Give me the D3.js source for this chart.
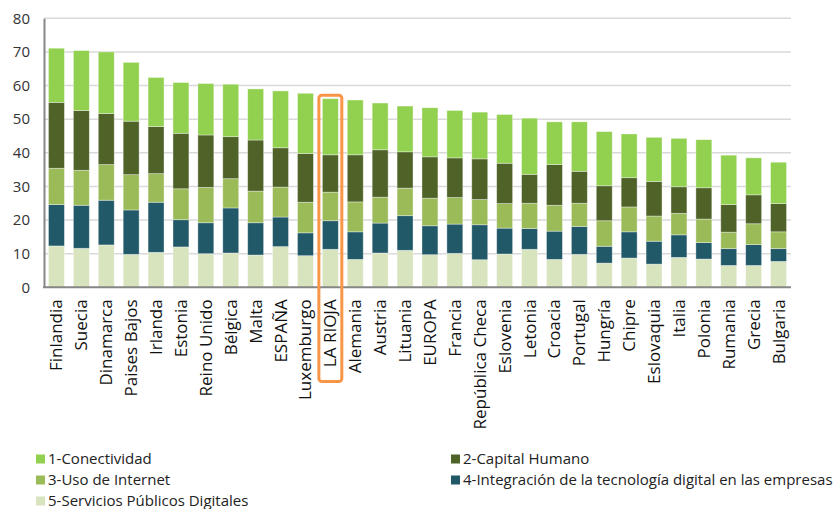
<!DOCTYPE html>
<html><head><meta charset="utf-8">
<script src="https://cdn.jsdelivr.net/npm/d3@7"></script>
<style>body{margin:0;background:#fff}</style>
</head><body>
<svg id="c" width="834" height="509"></svg>
<script>
const categories = ["Finlandia","Suecia","Dinamarca","Paises Bajos","Irlanda","Estonia","Reino Unido","Bélgica","Malta","ESPAÑA","Luxemburgo","LA RIOJA","Alemania","Austria","Lituania","EUROPA","Francia","República Checa","Eslovenia","Letonia","Croacia","Portugal","Hungría","Chipre","Eslovaquia","Italia","Polonia","Rumania","Grecia","Bulgaria"];
const serviciosPublicos = [12.3,11.6,12.6,9.8,10.4,12.0,10.0,10.2,9.6,12.1,9.4,11.3,8.3,10.2,11.0,9.7,10.1,8.2,9.9,11.3,8.3,9.8,7.2,8.7,6.9,8.9,8.4,6.5,6.5,7.7];
const integracion = [12.3,12.8,13.3,13.2,14.9,8.1,9.2,13.4,9.6,8.8,6.8,8.5,8.2,8.9,10.3,8.6,8.7,10.4,7.7,6.2,8.4,8.3,5.0,7.8,6.8,6.7,4.9,5.0,6.2,3.8];
const usoInternet = [10.8,10.4,10.6,10.5,8.5,9.2,10.5,8.7,9.4,8.9,9.1,8.5,8.9,7.7,8.2,8.2,7.9,7.5,7.3,7.5,7.7,6.9,7.6,7.4,7.5,6.4,7.0,4.9,6.2,5.0];
const capitalHumano = [19.6,17.8,15.2,15.9,14.0,16.5,15.6,12.5,15.2,11.7,14.5,11.1,14.0,14.1,10.8,12.3,11.8,12.1,12.0,8.6,12.1,9.5,10.4,8.7,10.3,7.9,9.3,8.2,8.6,8.4];
const conectividad = [16.1,17.8,18.3,17.5,14.6,15.1,15.3,15.6,15.2,16.9,17.9,16.7,16.3,13.9,13.6,14.6,14.1,13.9,14.5,16.7,12.7,14.7,16.1,13.0,13.1,14.4,14.3,14.7,11.0,12.3];
const yTicks = [0,10,20,30,40,50,60,70,80];
const seriesNames = ["5-Servicios Públicos Digitales","4-Integración de la tecnología digital en las empresas","3-Uso de Internet","2-Capital Humano","1-Conectividad"];
const seriesColors = ["#D7E4BD","#215968","#9BBB59","#4F6228","#92D050"];
const highlight = "LA RIOJA";

const seriesData = [serviciosPublicos, integracion, usoInternet, capitalHumano, conectividad];
const table = categories.map((c,i)=>{ const o={cat:c}; seriesNames.forEach((s,k)=>o[s]=seriesData[k][i]); return o; });
const stacked = d3.stack().keys(seriesNames)(table);

const svg = d3.select("#c");
const x = d3.scaleBand().domain(categories).range([44,791]).paddingInner(0.36).paddingOuter(0.18);
const y = d3.scaleLinear().domain([0,80]).range([287.3,18.3]);
const font = "'Open Sans', sans-serif";

// gridlines
svg.append("g").selectAll("line").data(yTicks.filter(t=>t>0)).join("line")
  .attr("x1",44).attr("x2",791).attr("y1",d=>y(d)).attr("y2",d=>y(d))
  .attr("stroke","#d9d9d9").attr("stroke-width",1.5);

// bars
svg.append("g").selectAll("g").data(stacked).join("g")
  .attr("fill",(d,i)=>seriesColors[i])
  .selectAll("rect").data(d=>d).join("rect")
  .attr("x",d=>x(d.data.cat)).attr("width",x.bandwidth())
  .attr("y",d=>y(d[1])).attr("height",d=>y(d[0])-y(d[1]))
  .attr("stroke","rgba(255,255,255,0.45)").attr("stroke-width",0.8);

// y axis
const yAxis = svg.append("g").attr("transform","translate(44,0)")
  .call(d3.axisLeft(y).tickValues(yTicks).tickSize(0).tickPadding(14));
yAxis.select(".domain").attr("stroke","#868686").attr("stroke-width",2);
yAxis.selectAll("text").attr("font-family",font).attr("font-size",15).attr("fill","#333");

// x axis
const xAxis = svg.append("g").attr("transform","translate(0,287.3)")
  .call(d3.axisBottom(x).tickSize(0).tickPadding(0));
xAxis.select(".domain").attr("stroke","#868686").attr("stroke-width",2).attr("d","M43,0H791");
xAxis.selectAll("text")
  .attr("font-family",font).attr("font-size",17).attr("fill","#111")
  .attr("text-anchor","end").attr("dy","0.35em")
  .attr("transform","translate(0,12) rotate(-90)").attr("x",0).attr("y",0);

// highlight box
const hi = categories.indexOf(highlight);
const total = seriesData.reduce((s,a)=>s+a[hi],0);
const hx = x(highlight);
svg.append("rect")
  .attr("x",hx-3.5).attr("y",y(total)-3.5)
  .attr("width",x.bandwidth()+7).attr("height",381.5-(y(total)-3.5))
  .attr("fill","none").attr("stroke","#F79646").attr("stroke-width",3).attr("rx",3);

// legend
const legendOrder = [4,3,2,1,0];
const legPos = [[36,459],[451,459],[36,480],[451,480],[36,501]];
const lg = svg.append("g");
legendOrder.forEach((k,j)=>{
  const [lx,ly] = legPos[j];
  lg.append("rect").attr("x",lx).attr("y",ly-4.5).attr("width",9).attr("height",9).attr("fill",seriesColors[k]);
  lg.append("text").attr("x",lx+12).attr("y",ly).attr("dy","0.35em")
    .attr("font-family",font).attr("font-size",15).attr("fill","#222").text(seriesNames[k]);
});
</script>
</body></html>
